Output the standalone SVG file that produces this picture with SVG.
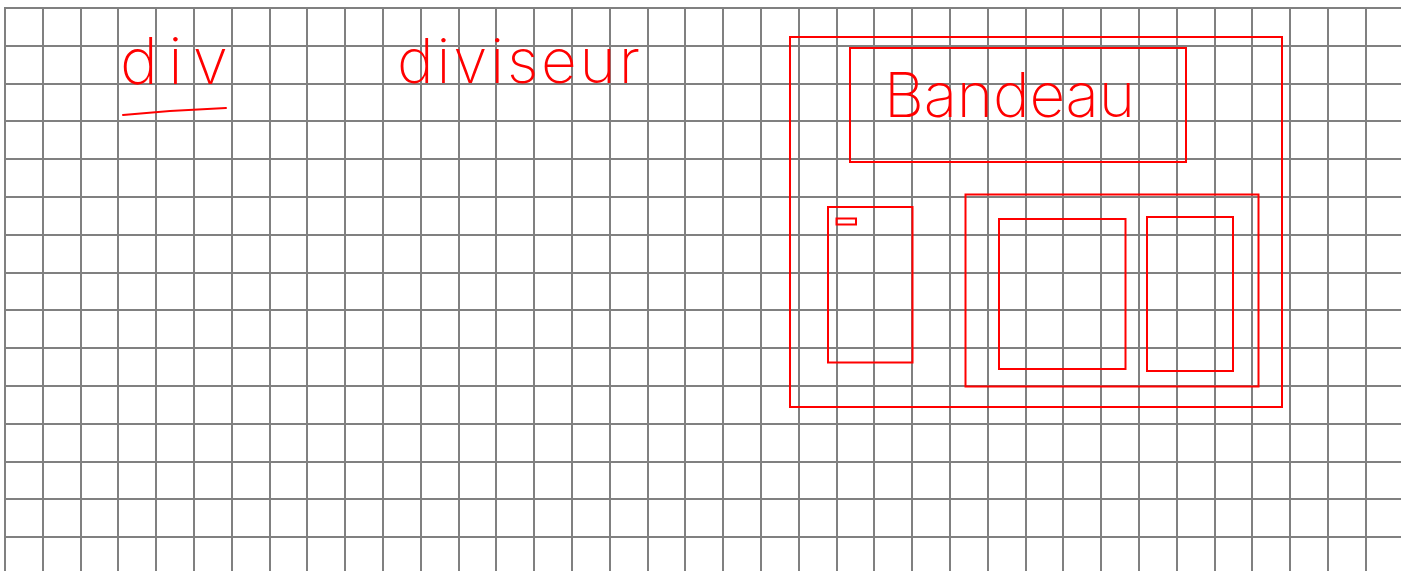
<svg xmlns="http://www.w3.org/2000/svg" width="1401" height="571" viewBox="0 0 1401 571">
<style>
.grid{fill:none;stroke:#808080;stroke-width:2}
.box{fill:none;stroke:#ff0000;stroke-width:2}
.hand{fill:#ff0000;font-family:Inter,"Liberation Sans",sans-serif;font-weight:200}
.ink{fill:none;stroke:#ff0000;stroke-width:2;stroke-linecap:round}
</style>
<rect width="1401" height="571" fill="#ffffff"/>
<g id="paper">
<path class="grid" d="M5 7V571M43 7V571M81 7V571M118 7V571M156 7V571M194 7V571M232 7V571M270 7V571M307 7V571M345 7V571M383 7V571M421 7V571M459 7V571M496 7V571M534 7V571M572 7V571M610 7V571M648 7V571M685 7V571M723 7V571M761 7V571M799 7V571M837 7V571M874 7V571M912 7V571M950 7V571M988 7V571M1026 7V571M1063 7V571M1101 7V571M1139 7V571M1177 7V571M1215 7V571M1252 7V571M1290 7V571M1328 7V571M1366 7V571"/>
<path class="grid" d="M4 8H1401M4 46H1401M4 84H1401M4 121H1401M4 159H1401M4 197H1401M4 235H1401M4 273H1401M4 310H1401M4 348H1401M4 386H1401M4 424H1401M4 462H1401M4 499H1401M4 537H1401"/>
</g>
<g id="label-div">
<text class="hand" x="120" y="84" font-size="64" textLength="108" lengthAdjust="spacing">div</text>
<path class="ink" d="M123 115 Q175 110 226 108"/>
</g>
<g id="label-diviseur">
<text class="hand" x="397" y="83" font-size="62" textLength="243" lengthAdjust="spacing">diviseur</text>
</g>
<g id="page">
<rect class="box" x="790" y="37" width="492" height="370"/>
</g>
<g id="bandeau">
<rect class="box" x="850" y="48" width="336" height="114"/>
<text class="hand" x="884" y="117" font-size="62" textLength="251" lengthAdjust="spacing">Bandeau</text>
</g>
<g id="sidebar">
<rect class="box" x="828" y="207" width="84.5" height="155.5"/>
<rect class="box" x="836.5" y="218.5" width="19.5" height="6"/>
</g>
<g id="content">
<rect class="box" x="965.5" y="194.5" width="293" height="192"/>
</g>
<g id="content-main">
<rect class="box" x="999" y="219" width="126.5" height="150"/>
</g>
<g id="content-side">
<rect class="box" x="1147" y="217" width="86" height="154"/>
</g>
<g id="connectors"></g>
</svg>
